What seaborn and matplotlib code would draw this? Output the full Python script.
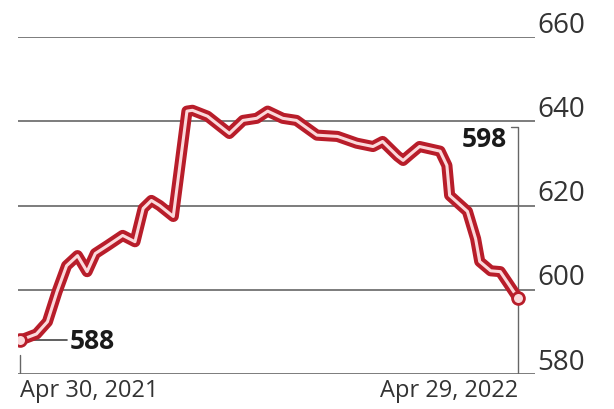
import pandas as pd
import seaborn as sns
import matplotlib.pyplot as plt

# values
dates = ['2021-04-30', '2021-05-12', '2021-05-20', '2021-05-27', '2021-06-03',
         '2021-06-11', '2021-06-18', '2021-06-24', '2021-07-03', '2021-07-14',
         '2021-07-23', '2021-07-29', '2021-08-04', '2021-08-10', '2021-08-20',
         '2021-08-30', '2021-09-03', '2021-09-14', '2021-09-30', '2021-10-10',
         '2021-10-20', '2021-10-28', '2021-11-08', '2021-11-18', '2021-12-03',
         '2021-12-18', '2022-01-01', '2022-01-13', '2022-01-20', '2022-01-31',
         '2022-02-04', '2022-02-09', '2022-02-16', '2022-03-03', '2022-03-08',
         '2022-03-10', '2022-03-23', '2022-03-29', '2022-04-01', '2022-04-09',
         '2022-04-16', '2022-04-21', '2022-04-29']
values = [588, 589.5, 592.4, 599.5, 605.7, 608.1, 604.3, 608.6, 610.5, 612.9,
          611.4, 619.3, 621.2, 620.0, 617.4, 642.4, 642.6, 641.2, 637.1, 640.2,
          640.7, 642.4, 640.7, 640.2, 636.7, 636.4, 634.8, 634.0, 635.2, 631.7,
          630.7, 632.1, 634.0, 632.9, 629.5, 622.4, 618.6, 612.1, 606.7, 604.5,
          604.3, 601.9, 598]
y_ticks = [580, 600, 620, 640, 660]
x_labels = ['Apr 30, 2021', 'Apr 29, 2022']

df = pd.DataFrame({'date': pd.to_datetime(dates), 'value': values})

sns.set_style('white')
plt.rcParams['font.family'] = ['Open Sans', 'DejaVu Sans']

red = '#b81d2a'
pink = '#fbd9db'
grey = '#666666'

fig = plt.figure(figsize=(6.14, 4.10), dpi=100)
ax = fig.add_axes([18 / 614, 35 / 410, 517 / 614, 337 / 410])

first, last = df['date'].iloc[0], df['date'].iloc[-1]
ax.set_xlim(first - pd.Timedelta(hours=36), first + pd.Timedelta(days=376.4))
ax.set_ylim(580, 660)

# grid lines
for v in y_ticks:
    ax.axhline(v, color=grey, lw=1.2, zorder=1)

# double line: thick red with a thin pale core
sns.lineplot(data=df, x='date', y='value', ax=ax, color=red, lw=8,
             solid_capstyle='round', solid_joinstyle='round', zorder=3)
sns.lineplot(data=df, x='date', y='value', ax=ax, color=pink, lw=2.2,
             solid_capstyle='round', solid_joinstyle='round', zorder=4)
ends = df.iloc[[0, -1]]
ax.plot(ends['date'], ends['value'], 'o', ms=8.5, mfc=pink, mec=red, mew=2, zorder=5)

# start label
ax.plot([first, first + pd.Timedelta(days=34)], [values[0], values[0]],
        color='#444444', lw=1.2, zorder=2)
ax.text(first + pd.Timedelta(days=36), values[0], f'{values[0]:.0f}',
        fontsize=19, fontweight='bold', color='#1a1a1a', va='center', ha='left')

# end label with bracket line
top = 638.6
ax.plot([last - pd.Timedelta(days=5), last, last], [top, top, 580],
        color=grey, lw=1.0, zorder=2)
ax.text(last - pd.Timedelta(days=8), 635.8, f'{values[-1]:.0f}',
        fontsize=19, fontweight='bold', color='#1a1a1a', va='center', ha='right')

# left tick mark
ax.plot([first, first], [580, 584.5], color=grey, lw=1.0, zorder=2)

# y labels on the right, sitting on the grid lines
for v in y_ticks:
    ax.text(1.004, v - 0.4, str(v), transform=ax.get_yaxis_transform(),
            fontsize=20, color='#333333', va='bottom', ha='left')

# x labels
ax.text(first, 579, x_labels[0], fontsize=17, color='#333333', va='top', ha='left')
ax.text(last, 579, x_labels[1], fontsize=17, color='#333333', va='top', ha='right')

ax.set_xticks([])
ax.set_yticks([])
ax.set_xlabel('')
ax.set_ylabel('')
sns.despine(ax=ax, left=True, bottom=True)

fig.savefig('out.png', dpi=100)
